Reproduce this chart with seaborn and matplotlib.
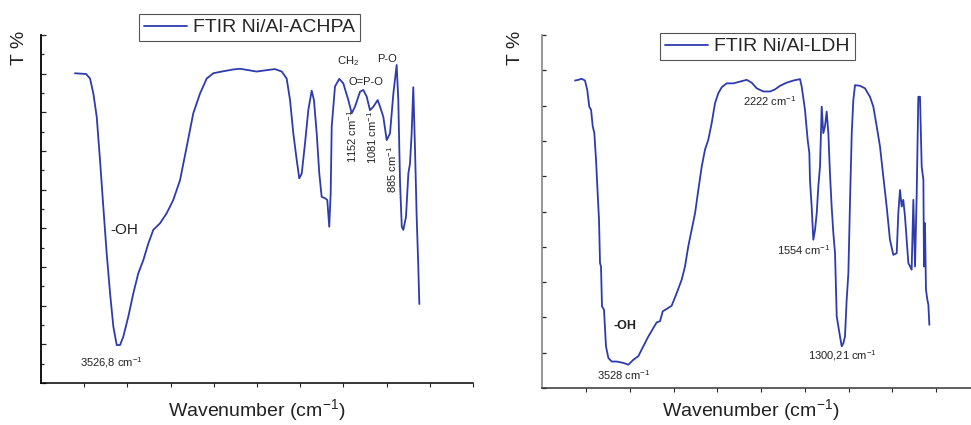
import numpy as np
import pandas as pd
import matplotlib
matplotlib.use("Agg")
import matplotlib.pyplot as plt
import seaborn as sns

sns.set_style("ticks")
plt.rcParams["font.family"] = ["Liberation Sans", "DejaVu Sans"]
plt.rcParams["mathtext.fontset"] = "custom"
plt.rcParams["mathtext.rm"] = "Liberation Sans"
plt.rcParams["mathtext.it"] = "Liberation Sans"

# Ni/Al-ACHPA spectrum (wavenumber cm-1, transmittance %)
achpa_wn = [3926, 3818, 3779, 3747, 3714, 3682, 3650, 3617, 3584, 3552, 3519, 3487,
            3455, 3406, 3357, 3309, 3260, 3211, 3163, 3097, 3032, 2968, 2902, 2837,
            2773, 2707, 2642, 2578, 2513, 2383, 2318, 2237, 2155, 2057, 1977, 1911,
            1863, 1830, 1798, 1765, 1740, 1716, 1684, 1652, 1619, 1597, 1570, 1545,
            1522, 1489, 1467, 1448, 1434, 1424, 1392, 1350, 1311, 1262, 1229, 1197,
            1148, 1116, 1083, 1051, 1018, 976, 953, 921, 888, 856, 823, 791, 775,
            758, 741, 726, 700, 677, 661, 645, 629, 612, 596, 580, 570]
achpa_t = [89.0, 88.8, 87.5, 83.2, 76.5, 64.1, 50.7, 37.3, 25.8, 16.2, 10.9, 10.9,
           13.3, 19.1, 25.8, 31.5, 35.3, 40.1, 44.0, 45.9, 48.8, 52.6, 58.3, 67.9,
           77.5, 83.2, 87.5, 89.0, 89.4, 90.1, 90.3, 89.9, 89.5, 89.9, 90.2, 89.5,
           87.5, 81.3, 71.7, 64.1, 58.8, 60.2, 68.9, 78.4, 84.0, 81.3, 71.7, 60.2,
           53.5, 53.1, 52.6, 44.9, 54.5, 73.7, 85.2, 87.4, 86.1, 81.3, 77.5, 79.4,
           83.7, 84.2, 82.3, 78.4, 79.4, 81.3, 79.4, 76.5, 69.8, 71.7, 83.2, 91.4,
           81.3, 57.4, 44.9, 44.0, 47.8, 60.2, 63.1, 71.7, 85.0, 67.0, 47.8, 33.4, 22.7]

# Ni/Al-LDH spectrum
ldh_wn = [3980, 3947, 3913, 3880, 3857, 3837, 3819, 3802, 3786, 3769, 3756, 3739,
          3729, 3719, 3709, 3689, 3669, 3645, 3612, 3562, 3494, 3444, 3394, 3344,
          3294, 3243, 3193, 3159, 3126, 3099, 3059, 3009, 2958, 2908, 2875, 2842,
          2808, 2774, 2741, 2707, 2674, 2641, 2607, 2573, 2540, 2506, 2456, 2389,
          2322, 2255, 2205, 2154, 2088, 2020, 1970, 1920, 1853, 1786, 1719, 1702,
          1669, 1642, 1625, 1619, 1602, 1585, 1568, 1551, 1535, 1518, 1501, 1485,
          1468, 1451, 1434, 1418, 1401, 1384, 1367, 1350, 1334, 1317, 1300, 1283,
          1267, 1250, 1233, 1216, 1199, 1183, 1166, 1116, 1066, 1016, 982, 948,
          915, 882, 848, 815, 781, 747, 731, 714, 697, 681, 664, 630, 597, 580,
          563, 546, 530, 513, 496, 479, 473, 463, 453, 439, 429, 419]
ldh_t = [87.1, 87.3, 87.6, 87.1, 84.4, 79.7, 78.8, 74.1, 72.2, 64.6, 57.1, 47.6,
         35.4, 34.4, 23.1, 22.2, 11.8, 8.5, 7.5, 7.5, 7.1, 6.6, 8.0, 9.0,
         11.8, 14.6, 17.0, 18.6, 18.9, 21.7, 22.4, 23.3, 26.9, 30.7, 34.4, 40.1,
         44.8, 49.5, 56.1, 62.7, 67.5, 70.3, 75.0, 80.7, 83.5, 85.2, 86.3, 86.3,
         86.8, 87.3, 86.5, 84.9, 84.0, 84.0, 84.6, 85.6, 86.5, 87.1, 87.5, 85.4,
         78.8, 70.3, 66.5, 59.0, 51.4, 42.0, 44.8, 49.5, 57.1, 62.7, 79.7, 72.2,
         74.1, 78.3, 72.2, 60.8, 51.4, 43.9, 38.2, 20.3, 17.5, 14.6, 11.8, 12.7,
         14.6, 25.0, 32.5, 53.3, 72.2, 81.6, 85.8, 85.6, 84.9, 82.5, 79.7, 74.1,
         68.4, 59.9, 51.4, 42.0, 37.7, 38.2, 49.5, 56.1, 51.4, 53.3, 48.6, 35.4,
         33.5, 53.3, 34.4, 55.2, 82.5, 82.5, 62.7, 59.0, 34.4, 46.7, 27.8, 25.0,
         23.6, 17.9]

line_color = "#2E3BAE"
text_color = "#222222"

achpa = pd.DataFrame({"wn": achpa_wn, "T": achpa_t})
ldh = pd.DataFrame({"wn": ldh_wn, "T": ldh_t})

W, H = 971, 425
fig = plt.figure(figsize=(W / 100, H / 100), dpi=100)
ax1 = fig.add_axes([41 / W, 1 - 383 / H, 432 / W, 348 / H])
ax2 = fig.add_axes([542.3 / W, 1 - 388 / H, 437.7 / W, 353 / H])

sns.lineplot(data=achpa, x="wn", y="T", ax=ax1, sort=False, estimator=None,
             color=line_color, lw=1.3, label="FTIR Ni/Al-ACHPA")
sns.lineplot(data=ldh, x="wn", y="T", ax=ax2, sort=False, estimator=None,
             color=line_color, lw=1.3, label="FTIR Ni/Al-LDH")

ax1.set_xlim(4257, 47)
ax2.set_xlim(4309, -90)
for ax in (ax1, ax2):
    ax.set_ylim(0, 100)
    lo, hi = ax.get_xlim()
    ax.set_xticks(np.linspace(lo, hi, 11)[1:])
    ax.set_xlabel("")
    ax.set_ylabel("")
    ax.tick_params(axis="x", direction="out", length=3, width=0.8,
                   labelbottom=False)
    ax.tick_params(axis="y", which="both", direction="in", labelleft=False)
    sns.despine(ax=ax)

ax1.set_yticks(np.linspace(0, 100, 10))
ax1.set_yticks(np.linspace(0, 100, 19), minor=True)
ax1.tick_params(axis="y", which="major", length=3.5, width=0.9)
ax1.tick_params(axis="y", which="minor", length=2, width=0.9)
ax1.spines["left"].set_linewidth(1.3)
ax1.spines["bottom"].set_linewidth(1.1)
ax1.spines["left"].set_color("black")
ax1.spines["bottom"].set_color("black")

ax2.set_yticks(np.linspace(0, 100, 11))
ax2.tick_params(axis="y", length=3, width=0.9)
ax2.spines["left"].set_color("#7a7a7a")
ax2.spines["left"].set_linewidth(1.1)
ax2.spines["bottom"].set_color("#333333")
ax2.spines["bottom"].set_linewidth(1.1)

for ax, anchor in ((ax1, (139 / W, 1 - 14 / H)), (ax2, (660 / W, 1 - 33 / H))):
    ax.legend(loc="upper left", bbox_to_anchor=anchor,
              bbox_transform=fig.transFigure, fontsize=14, frameon=True,
              fancybox=False, edgecolor="#555555", framealpha=1,
              handlelength=2.2, handletextpad=0.35, borderpad=0.25,
              borderaxespad=0)
    ax.get_legend().get_frame().set_linewidth(0.8)

# axis titles
for x in (19, 515):
    fig.text(x / W, 1 - 48 / H, "T %", rotation=90, fontsize=14,
             ha="center", va="center", color=text_color)
for x in (257, 751):
    fig.text(x / W, 1 - 410 / H, "Wavenumber (cm$^{-1}$)", fontsize=14,
             ha="center", va="center", color=text_color)

# peak labels, ACHPA
ax1.text(3584, 44, "-OH", fontsize=11, ha="left", va="center", color=text_color)
ax1.text(3877, 6, "3526,8 cm$^{-1}$", fontsize=8, ha="left", va="center",
         color=text_color)
ax1.text(1265, 92.5, "CH$_2$", fontsize=8, ha="center", va="center",
         color=text_color)
ax1.text(1090, 86.5, "O=P-O", fontsize=8, ha="center", va="center",
         color=text_color)
ax1.text(885, 93, "P-O", fontsize=8, ha="center", va="center", color=text_color)
ax1.text(1226, 71, "1152 cm$^{-1}$", fontsize=8, rotation=90, ha="center",
         va="center", color=text_color)
ax1.text(1031, 70.7, "1081 cm$^{-1}$", fontsize=8, rotation=90, ha="center",
         va="center", color=text_color)
ax1.text(836, 61.5, "885 cm$^{-1}$", fontsize=8, rotation=90, ha="center",
         va="center", color=text_color)

# peak labels, LDH
ax2.text(3598, 17.6, "-OH", fontsize=9, fontweight="bold", ha="left",
         va="center", color=text_color)
ax2.text(3759, 3.7, "3528 cm$^{-1}$", fontsize=8, ha="left", va="center",
         color=text_color)
ax2.text(2292, 81.3, "2222 cm$^{-1}$", fontsize=8, ha="left", va="center",
         color=text_color)
ax2.text(1950, 39, "1554 cm$^{-1}$", fontsize=8, ha="left", va="center",
         color=text_color)
ax2.text(1639, 9.3, "1300,21 cm$^{-1}$", fontsize=8, ha="left", va="center",
         color=text_color)

fig.savefig("out.png", dpi=100)
